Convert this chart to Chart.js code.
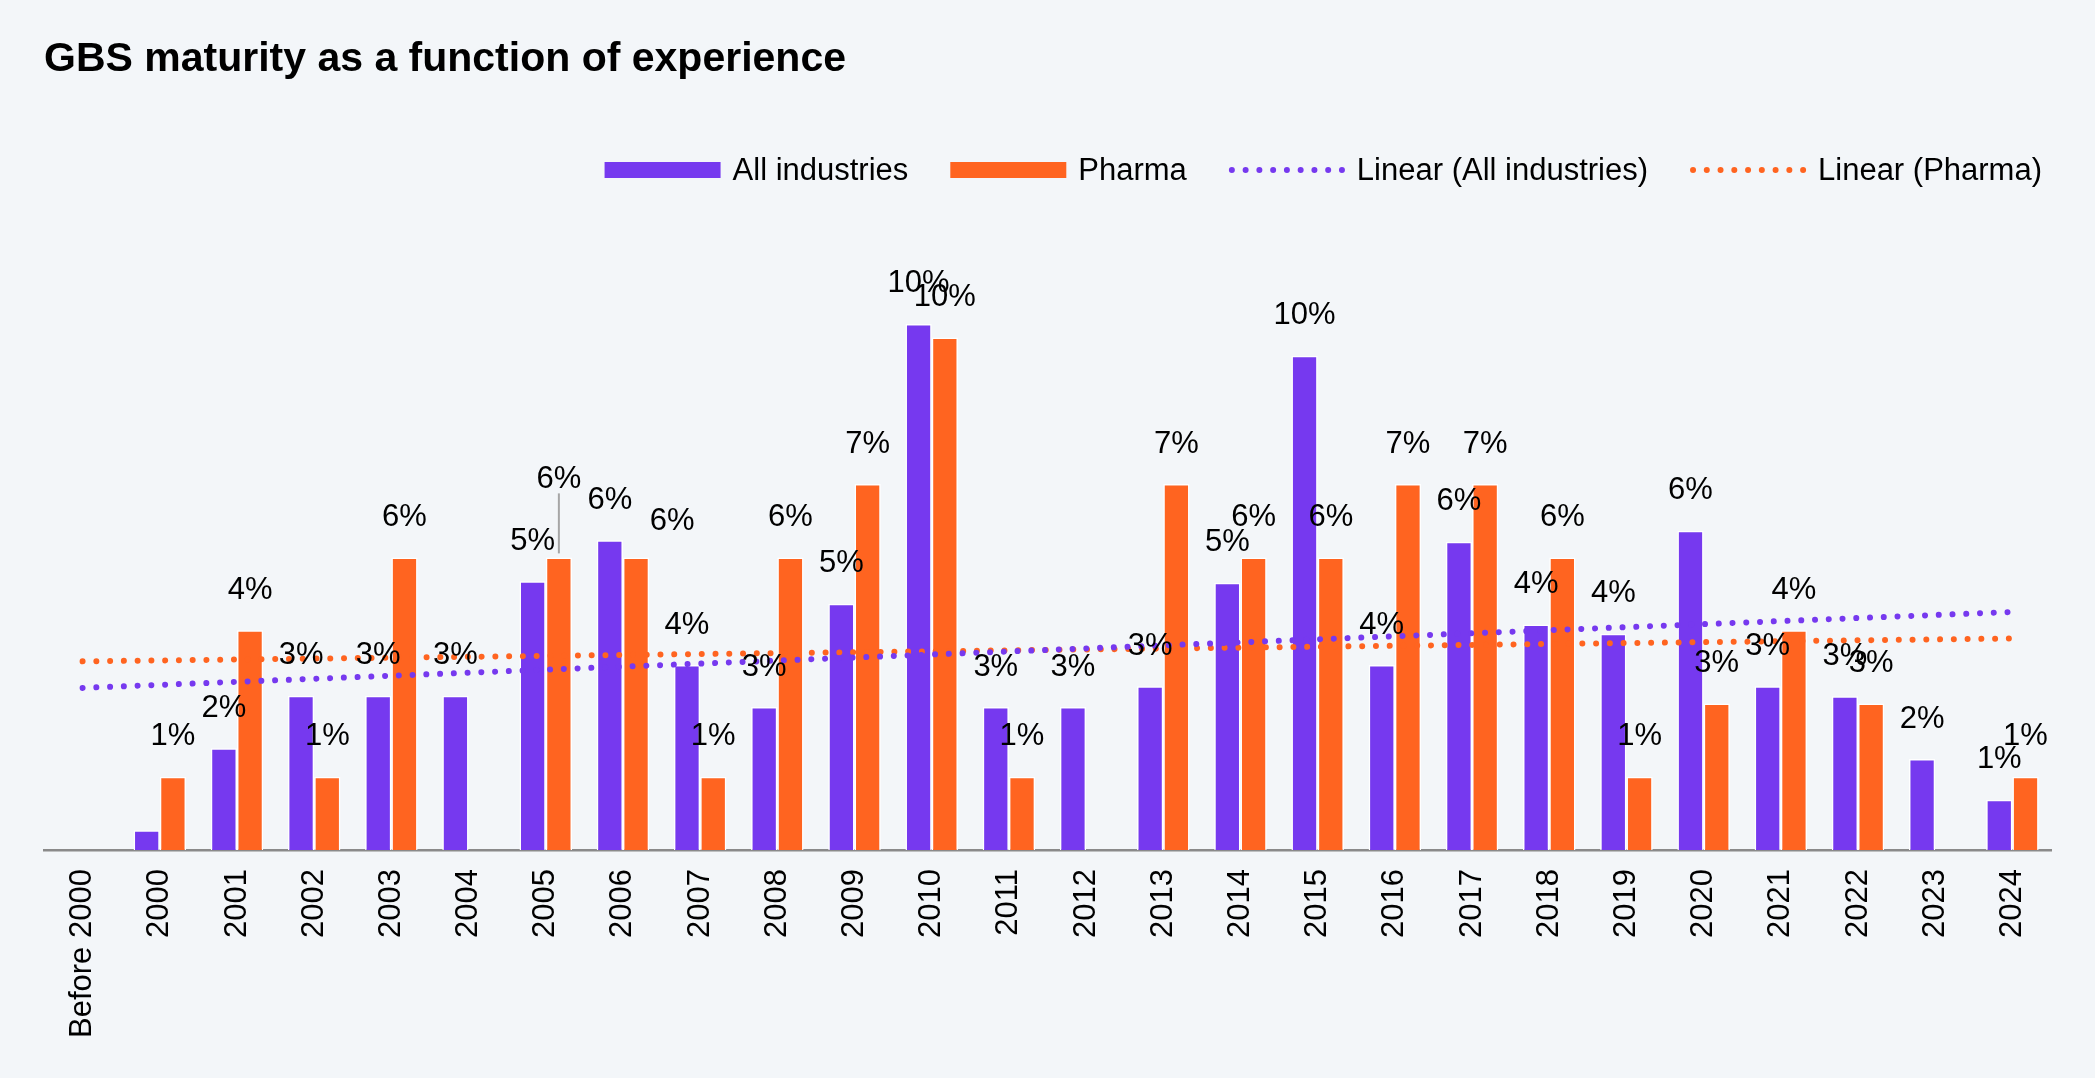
<!DOCTYPE html>
<html>
<head>
<meta charset="utf-8">
<script src="https://cdn.jsdelivr.net/npm/chart.js@4.4.1/dist/chart.umd.min.js"></script>
<style>
  html, body { margin: 0; padding: 0; background: #f3f6f9; }
  #wrap { width: 2095px; height: 1078px; }
</style>
</head>
<body>
<div id="wrap"><canvas id="chart" width="2095" height="1078"></canvas></div>
<script>
// --- data ---
const categories = ["Before 2000", "2000", "2001", "2002", "2003", "2004", "2005", "2006", "2007",
  "2008", "2009", "2010", "2011", "2012", "2013", "2014", "2015", "2016", "2017", "2018",
  "2019", "2020", "2021", "2022", "2023", "2024"];

const allIndustries = [0, 0.38, 1.96, 2.97, 2.97, 2.97, 5.17, 5.96, 3.56, 2.75, 4.74, 10.12, 2.75,
  2.75, 3.15, 5.14, 9.51, 3.56, 5.93, 4.34, 4.16, 6.14, 3.15, 2.96, 1.75, 0.97];

const pharma = [0, 1.41, 4.23, 1.41, 5.63, 0, 5.63, 5.63, 1.41, 5.63, 7.04, 9.86, 1.41, 0, 7.04,
  5.63, 5.63, 7.04, 7.04, 5.63, 1.41, 2.82, 4.23, 2.82, 0, 1.41];

// trend lines: start and end values only
const trendAll = [3.12, null, null, null, null, null, null, null, null, null, null, null, null,
  null, null, null, null, null, null, null, null, null, null, null, null, 4.58];
const trendPharma = [3.63, null, null, null, null, null, null, null, null, null, null, null, null,
  null, null, null, null, null, null, null, null, null, null, null, null, 4.07];

const PURPLE = "#7639ef";
const ORANGE = "#ff6420";
const FONT = "'Liberation Sans', Arial, sans-serif";

// --- value labels above bars ---
const barLabels = {
  id: "barLabels",
  afterDatasetsDraw(chart, args, opts) {
    const ctx = chart.ctx;
    ctx.save();
    ctx.font = "31px " + FONT;
    ctx.fillStyle = "#000";
    ctx.textAlign = "center";
    ctx.textBaseline = "middle";
    chart.data.datasets.forEach((ds, di) => {
      if (ds.type === "line") return;
      const meta = chart.getDatasetMeta(di);
      meta.data.forEach((bar, i) => {
        const v = Math.round(ds.data[i]);
        if (!v) return;
        let x = bar.x, y = bar.y - 40;
        const n = (opts.nudge || []).find(o => o.dataset === di && o.index === i);
        if (n) {
          x += n.dx || 0;
          y -= n.lift || 0;
          if (n.leader) {
            ctx.strokeStyle = "#a6a6a6";
            ctx.lineWidth = 2;
            ctx.beginPath();
            ctx.moveTo(bar.x, y + 14);
            ctx.lineTo(bar.x, bar.y - 4);
            ctx.stroke();
          }
        }
        ctx.fillText(v + "%", x, y);
      });
    });
    ctx.restore();
  }
};

// --- legend drawn to match the reference layout ---
const topLegend = {
  id: "topLegend",
  afterDraw(chart) {
    const ctx = chart.ctx;
    const items = [
      { kind: "box", color: PURPLE, text: "All industries" },
      { kind: "box", color: ORANGE, text: "Pharma" },
      { kind: "dots", color: PURPLE, text: "Linear (All industries)" },
      { kind: "dots", color: ORANGE, text: "Linear (Pharma)" }
    ];
    const right = 2042, cy = 170, swatch = 116, gap = 12, between = 42;
    ctx.save();
    ctx.font = "31px " + FONT;
    ctx.textBaseline = "middle";
    let total = 0;
    items.forEach((it, k) => {
      it.w = ctx.measureText(it.text).width;
      total += swatch + gap + it.w + (k ? between : 0);
    });
    let x = right - total;
    items.forEach(it => {
      if (it.kind === "box") {
        ctx.fillStyle = it.color;
        ctx.fillRect(x, cy - 8, swatch, 16);
      } else {
        ctx.strokeStyle = it.color;
        ctx.lineWidth = 6;
        ctx.lineCap = "round";
        ctx.setLineDash([0.01, 13.75]);
        ctx.beginPath();
        ctx.moveTo(x + 3, cy);
        ctx.lineTo(x + swatch, cy);
        ctx.stroke();
        ctx.setLineDash([]);
      }
      ctx.fillStyle = "#000";
      ctx.fillText(it.text, x + swatch + gap, cy + 1);
      x += swatch + gap + it.w + between;
    });
    ctx.restore();
  }
};

new Chart(document.getElementById("chart"), {
  data: {
    labels: categories,
    datasets: [
      {
        type: "bar", label: "All industries", data: allIndustries,
        backgroundColor: PURPLE, borderColor: "#fff",
        borderWidth: { top: 1.5, left: 1.5, right: 1.5, bottom: 0 }, order: 2
      },
      {
        type: "bar", label: "Pharma", data: pharma,
        backgroundColor: ORANGE, borderColor: "#fff",
        borderWidth: { top: 1.5, left: 1.5, right: 1.5, bottom: 0 }, order: 2
      },
      {
        type: "line", label: "Linear (All industries)", data: trendAll,
        borderColor: PURPLE, borderWidth: 6, borderDash: [0.01, 13.75],
        borderCapStyle: "round", pointRadius: 0, spanGaps: true, order: 0
      },
      {
        type: "line", label: "Linear (Pharma)", data: trendPharma,
        borderColor: ORANGE, borderWidth: 6, borderDash: [0.01, 13.75],
        borderCapStyle: "round", pointRadius: 0, spanGaps: true, order: 1
      }
    ]
  },
  options: {
    responsive: false,
    animation: false,
    devicePixelRatio: 1,
    layout: { padding: { left: 44, right: 44, top: 0, bottom: 29 } },
    datasets: { bar: { categoryPercentage: 0.68, barPercentage: 1.0 } },
    scales: {
      x: {
        grid: { display: false },
        border: { display: true, color: "#8a8a8a", width: 2.5 },
        ticks: {
          color: "#000", font: { family: FONT, size: 31 },
          minRotation: 90, maxRotation: 90, autoSkip: false, padding: 11
        }
      },
      y: { display: false, min: 0, max: 12 }
    },
    plugins: {
      legend: { display: false },
      tooltip: { enabled: false },
      title: {
        display: true,
        text: "GBS maturity as a function of experience",
        align: "start",
        color: "#000",
        font: { family: FONT, size: 41, weight: "bold" },
        padding: { top: 35, bottom: 142 }
      },
      barLabels: {
        nudge: [
          { dataset: 1, index: 6, lift: 38, leader: true },
          { dataset: 1, index: 7, dx: 36, lift: -4 }
        ]
      }
    }
  },
  plugins: [barLabels, topLegend]
});
</script>
</body>
</html>
